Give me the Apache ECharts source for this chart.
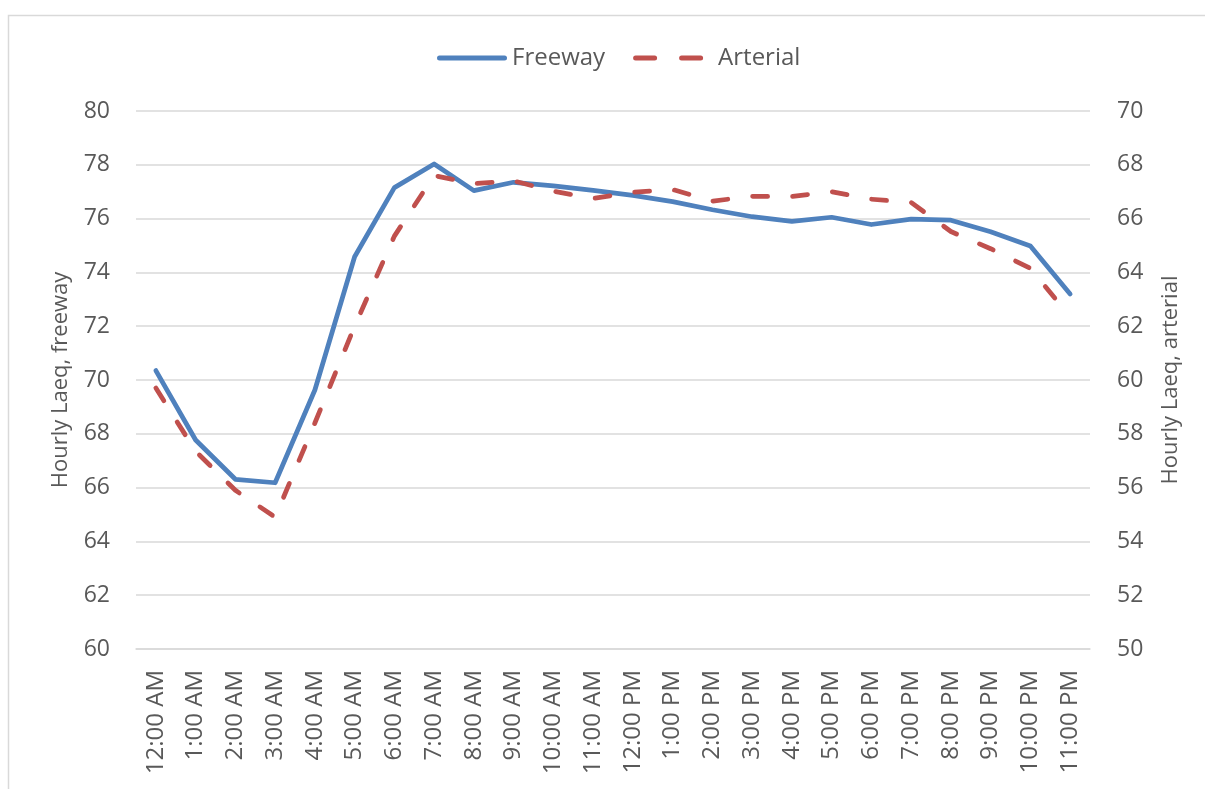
<!DOCTYPE html>
<html>
<head>
<meta charset="utf-8">
<script src="https://cdn.jsdelivr.net/npm/echarts@6/dist/echarts.min.js"></script>
<style>
  html, body { margin: 0; padding: 0; background: #fff; }
  #chart { width: 1205px; height: 789px; }
</style>
</head>
<body>
<div id="chart"></div>
<script>
// Hour-of-day categories
const hours = [
  '12:00 AM', '1:00 AM', '2:00 AM', '3:00 AM', '4:00 AM', '5:00 AM',
  '6:00 AM', '7:00 AM', '8:00 AM', '9:00 AM', '10:00 AM', '11:00 AM',
  '12:00 PM', '1:00 PM', '2:00 PM', '3:00 PM', '4:00 PM', '5:00 PM',
  '6:00 PM', '7:00 PM', '8:00 PM', '9:00 PM', '10:00 PM', '11:00 PM'
];

// Hourly Laeq (dB), freeway site — left axis
const freeway = [
  70.35, 67.77, 66.31, 66.18, 69.63, 74.58,
  77.15, 78.03, 77.04, 77.35, 77.22, 77.05,
  76.86, 76.63, 76.33, 76.07, 75.9, 76.05,
  75.78, 75.98, 75.94, 75.51, 74.98, 73.2
];

// Hourly Laeq (dB), arterial site — right axis
const arterial = [
  59.7, 57.35, 55.9, 54.9, 58.4, 62.0,
  65.35, 67.6, 67.3, 67.4, 67.02, 66.75,
  66.98, 67.08, 66.65, 66.83, 66.82, 67.0,
  66.72, 66.6, 65.52, 64.88, 64.15, 62.35
];

const seriesNames = ['Freeway', 'Arterial'];
const leftTitle = 'Hourly Laeq, freeway';
const rightTitle = 'Hourly Laeq, arterial';

const FONT = 'Open Sans';
const TEXT = '#595959';
const GRID = '#D9D9D9';
const BLUE = '#4F81BD';
const RED = '#C0504D';

// Legend keys: a solid rounded bar and two rounded dashes (70 x 5 box)
const solidKey = 'path://M2.5,0h65a2.5,2.5 0 0 1 0,5h-65a2.5,2.5 0 0 1 0,-5z';
const dashKey = 'path://M2.5,0h19a2.5,2.5 0 0 1 0,5h-19a2.5,2.5 0 0 1 0,-5z' +
                'M48.5,0h19a2.5,2.5 0 0 1 0,5h-19a2.5,2.5 0 0 1 0,-5z';

const chart = echarts.init(document.getElementById('chart'));

chart.setOption({
  backgroundColor: '#ffffff',
  animation: false,
  textStyle: { fontFamily: FONT, color: TEXT },
  graphic: [{
    type: 'rect',
    shape: { x: 8.5, y: 15.5, width: 1400, height: 1000 },
    style: { fill: 'none', stroke: GRID, lineWidth: 1.5 },
    silent: true,
    z: -10
  }],
  legend: {
    top: 41,
    left: 432,
    itemWidth: 70,
    itemHeight: 5,
    itemGap: 28,
    data: [
      { name: seriesNames[0], icon: solidKey },
      { name: seriesNames[1], icon: dashKey, textStyle: { padding: [0, 0, 0, 10] } }
    ],
    textStyle: { fontFamily: FONT, fontSize: 24, color: TEXT }
  },
  grid: { left: 136, right: 115, top: 111, bottom: 140, containLabel: false },
  xAxis: {
    type: 'category',
    data: hours,
    boundaryGap: true,
    axisLine: { show: true, lineStyle: { color: GRID, width: 1.5 } },
    axisTick: { show: false },
    axisLabel: {
      rotate: 90,
      interval: 0,
      margin: 21,
      fontFamily: FONT,
      fontSize: 24,
      color: TEXT
    }
  },
  yAxis: [
    {
      type: 'value',
      min: 60, max: 80, interval: 2,
      name: leftTitle,
      nameLocation: 'middle',
      nameRotate: 90,
      nameGap: 64,
      nameTextStyle: { fontFamily: FONT, fontSize: 22, color: TEXT },
      axisLine: { show: false },
      axisTick: { show: false },
      axisLabel: { margin: 26, fontFamily: FONT, fontSize: 23, color: TEXT },
      splitLine: { lineStyle: { color: GRID, width: 1.5 } }
    },
    {
      type: 'value',
      min: 50, max: 70, interval: 2,
      position: 'right',
      name: rightTitle,
      nameLocation: 'middle',
      nameRotate: 90,
      nameGap: 70,
      nameTextStyle: { fontFamily: FONT, fontSize: 22, color: TEXT },
      axisLine: { show: false },
      axisTick: { show: false },
      axisLabel: { margin: 27, fontFamily: FONT, fontSize: 23, color: TEXT },
      splitLine: { show: false }
    }
  ],
  series: [
    {
      name: seriesNames[0],
      type: 'line',
      yAxisIndex: 0,
      data: freeway,
      symbol: 'none',
      lineStyle: { color: BLUE, width: 4.75, cap: 'round', join: 'round' },
      itemStyle: { color: BLUE },
      z: 2
    },
    {
      name: seriesNames[1],
      type: 'line',
      yAxisIndex: 1,
      data: arterial,
      symbol: 'none',
      lineStyle: { color: RED, width: 4.75, type: [15, 25], cap: 'round', join: 'round' },
      itemStyle: { color: RED },
      z: 3
    }
  ]
});
</script>
</body>
</html>
